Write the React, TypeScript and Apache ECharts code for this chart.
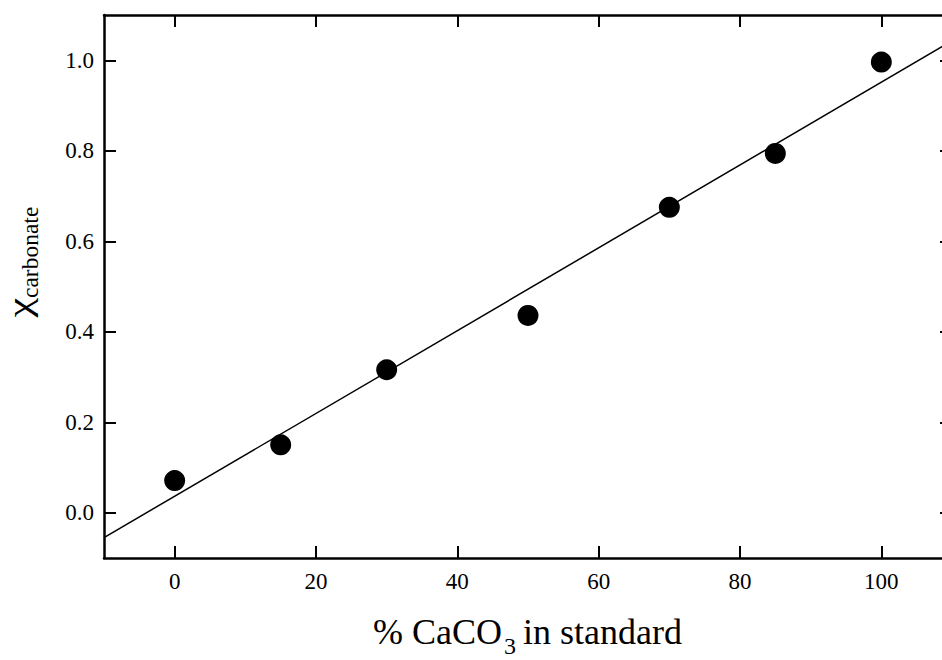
import React, { useEffect, useRef } from "react";
import * as echarts from "echarts";

const xValues = [0, 15, 30, 50, 70, 85, 100];
const yValues = [0.071, 0.15, 0.316, 0.436, 0.675, 0.794, 0.996];
const fitX = [-10, 110];
const fitY = [-0.055, 1.043];
const xTicks = [0, 20, 40, 60, 80, 100];
const yTicks = [0, 0.2, 0.4, 0.6, 0.8, 1.0];
const xRange = [-10, 110];
const yRange = [-0.1, 1.1];

const FONT = "Liberation Serif";

export default function App() {
  const ref = useRef<HTMLDivElement>(null);
  useEffect(() => {
    if (!ref.current) return;
    const chart = echarts.init(ref.current, null, { renderer: "svg" });
    const axisLine = { show: true, onZero: false, lineStyle: { color: "#000", width: 2.5 } };
    const tick = (vals: number[]) => ({
      show: true,
      inside: true,
      length: 12,
      customValues: vals,
      lineStyle: { color: "#000", width: 2 },
    });
    const txt = (
      text: string,
      x: number,
      y: number,
      size: number,
      align: string,
      rotation = 0,
      scaleX = 1
    ) => ({
      type: "text",
      x,
      y,
      rotation,
      scaleX,
      style: {
        text,
        align,
        verticalAlign: "middle",
        fill: "#000",
        fontFamily: FONT,
        fontSize: size,
        lineHeight: Math.round(size * 0.8),
      },
    });
    chart.setOption({
      animation: false,
      backgroundColor: "#fff",
      grid: {
        left: 104,
        top: 15,
        width: 848,
        height: 543,
        containLabel: false,
        outerBoundsMode: "none",
      },
      xAxis: [
        {
          type: "value",
          position: "bottom",
          min: xRange[0],
          max: xRange[1],
          axisLine,
          axisTick: tick(xTicks),
          splitLine: { show: false },
          axisLabel: {
            customValues: xTicks,
            margin: 12,
            color: "#000",
            fontFamily: FONT,
            fontSize: 23,
            formatter: (v: number) => String(v),
          },
        },
        {
          type: "value",
          position: "top",
          min: xRange[0],
          max: xRange[1],
          axisLine,
          axisTick: tick(xTicks),
          splitLine: { show: false },
          axisLabel: { show: false },
        },
      ],
      yAxis: [
        {
          type: "value",
          position: "left",
          min: yRange[0],
          max: yRange[1],
          axisLine,
          axisTick: tick(yTicks),
          splitLine: { show: false },
          axisLabel: {
            customValues: yTicks,
            margin: 10,
            color: "#000",
            fontFamily: FONT,
            fontSize: 23,
            formatter: (v: number) => v.toFixed(1),
          },
        },
        {
          type: "value",
          position: "right",
          min: yRange[0],
          max: yRange[1],
          axisLine,
          axisTick: tick(yTicks),
          splitLine: { show: false },
          axisLabel: { show: false },
        },
      ],
      series: [
        {
          type: "line",
          data: fitX.map((x, i) => [x, fitY[i]]),
          showSymbol: false,
          symbol: "none",
          lineStyle: { color: "#000", width: 1.5 },
          silent: true,
        },
        {
          type: "scatter",
          data: xValues.map((x, i) => [x, yValues[i]]),
          symbol: "circle",
          symbolSize: 21,
          itemStyle: { color: "#000", opacity: 1 },
        },
      ],
      graphic: [
        txt("% CaCO", 373, 632, 36, "left"),
        txt("3", 504, 645.5, 24, "left"),
        txt("in standard", 523, 632, 36, "left"),
        txt("χ", 19.5, 298, 34, "right", Math.PI / 2, 1.3),
        txt("carbonate", 29.5, 298, 23.5, "left", Math.PI / 2),
      ],
    });
    return () => chart.dispose();
  }, []);
  return (
    <div
      ref={ref}
      style={{ position: "fixed", left: 0, top: 0, width: 942, height: 660, background: "#fff" }}
    />
  );
}
